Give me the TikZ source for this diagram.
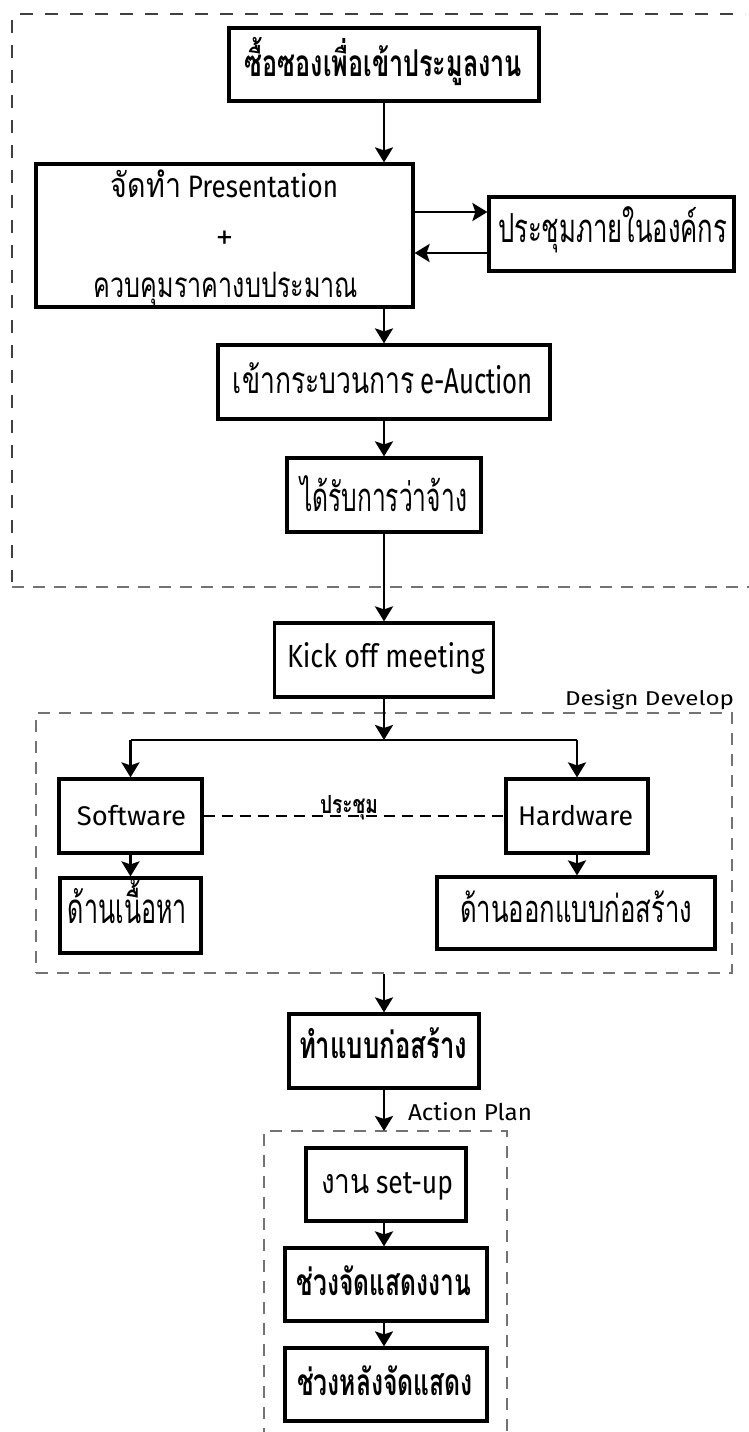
\documentclass[tikz,border=0pt]{standalone}
\usepackage{fontspec}
\setmainfont{Fira Sans}
\newfontfamily\thf[Script=Thai]{Loma}
\usetikzlibrary{arrows.meta}
\newcommand{\fw}[2]{\resizebox{#1}{\height}{#2}}
\newcommand{\fs}[1]{\fontsize{#1}{#1}\selectfont}
\begin{document}
\begin{tikzpicture}[x=1pt,y=-1pt,
  box/.style={draw=black, line width=3.2pt, inner sep=0pt, rectangle},
  txt/.style={anchor=base, inner sep=0pt, font=\fs{30}},
  arr/.style={draw=black, line width=2.8pt, -{Stealth[length=15pt,width=18pt,inset=3pt]}},
  conn/.style={draw=black, line width=2.8pt},
  regdash/.style={draw=black!75, line width=1.4pt, dash pattern=on 13pt off 12pt},
  grpdash/.style={draw=black!55, line width=1.4pt, dash pattern=on 12pt off 9pt},
  linkdash/.style={draw=black, line width=1.8pt, dash pattern=on 11pt off 7pt}]
\useasboundingbox[fill=white] (0,0) rectangle (749,1432);

% region separators
\draw[regdash] (20,14) -- (745,14);
\draw[regdash] (12,20) -- (12,582);
\draw[grpdash] (12,587) -- (749,587);

% boxes
\node[box, minimum width=310pt, minimum height=73pt] (b1) at (384,64.5) {};
\node[box, minimum width=377pt, minimum height=143pt] (b2) at (224.5,235.5) {};
\node[box, minimum width=245pt, minimum height=74pt] (b3) at (611.5,234) {};
\node[box, minimum width=332pt, minimum height=74pt] (b4) at (384,382) {};
\node[box, minimum width=194pt, minimum height=74pt] (b5) at (384,495) {};
\node[box, minimum width=219pt, minimum height=74pt] (b6) at (384,660) {};
\node[grpdash, rectangle, inner sep=0pt, minimum width=696pt, minimum height=260pt] (dd) at (384,843) {};
\node[box, minimum width=143pt, minimum height=74pt] (sw) at (130.5,816) {};
\node[box, minimum width=142pt, minimum height=74pt] (hw) at (577,816) {};
\node[box, minimum width=141pt, minimum height=75pt] (cont) at (130.5,915.5) {};
\node[box, minimum width=278pt, minimum height=72pt] (cons) at (576,913) {};
\node[box, minimum width=190pt, minimum height=74pt] (b7) at (384,1051) {};
\node[box, minimum width=160pt, minimum height=73pt] (b8) at (386,1184.5) {};
\node[box, minimum width=202pt, minimum height=73pt] (b9) at (386,1284.5) {};
\node[box, minimum width=202pt, minimum height=73pt] (b10) at (386,1384.5) {};

% action plan group (open at the bottom)
\coordinate (apt) at (384,1131);
\draw[grpdash] (264,1440) -- (264,1131) -- (507,1131) -- (507,1440);

% texts
\node[txt] (t1) at (383.5,76) {\fw{277pt}{\thf\bfseries\fs{37}ซื้อซองเพื่อเข้าประมูลงาน}};
\node[txt] (t2a) at (224.5,197) {\fw{227pt}{{\thf\fs{34}จัดทำ} {\fs{31}Presentation}}};
\node[txt, anchor=center, font=\fs{28}\thf] (t2b) at (224.5,239) {+};
\node[txt] (t2c) at (226,297) {\fw{264pt}{\thf\fs{35}ควบคุมราคางบประมาณ}};
\node[txt] (t3) at (612.5,242) {\fw{229pt}{\thf\fs{40}ประชุมภายในองค์กร}};
\node[txt] (t4) at (383,393) {\fw{300pt}{{\thf\fs{37}เข้ากระบวนการ} {\fs{36}e-Auction}}};
\node[txt] (t5) at (383.5,511) {\fw{167pt}{\thf\fs{40}ได้รับการว่าจ้าง}};
\node[txt] (t6) at (386,667) {\fw{198pt}{\fs{32}Kick off meeting}};
\node[txt] (tdd) at (649.5,705) {\fw{169pt}{\fs{20}Design Develop}};
\node[txt] (tsw) at (131.5,825) {\fw{109pt}{\fs{27}Software}};
\node[txt] (thw) at (575.5,825) {\fw{115pt}{\fs{27}Hardware}};
\node[txt] (tcont) at (127.5,923) {\fw{119pt}{\thf\fs{42}ด้านเนื้อหา}};
\node[txt] (tcons) at (576,922) {\fw{232pt}{\thf\fs{38}ด้านออกแบบก่อสร้าง}};
\node[txt] (t7) at (383,1058) {\fw{168pt}{\thf\bfseries\fs{37}ทำแบบก่อสร้าง}};
\node[txt] (tap) at (470,1120) {\fw{124pt}{\fs{23}Action Plan}};
\node[txt] (t8) at (387,1193) {\fw{132pt}{{\thf\fs{34}งาน} {\fs{32}set-up}}};
\node[txt] (t9) at (384,1295) {\fw{174pt}{\thf\bfseries\fs{37}ช่วงจัดแสดงงาน}};
\node[txt] (t10) at (385,1395) {\fw{176pt}{\thf\bfseries\fs{37}ช่วงหลังจัดแสดง}};

% connectors
\draw[arr] (b1.south) -- (b2.north -| b1.south);
\draw[arr] ([yshift=23.5pt]b2.east) -- ([yshift=23.5pt]b2.east -| b3.west);
\draw[arr] ([yshift=-19pt]b3.west) -- ([yshift=-19pt]b3.west -| b2.east);
\draw[arr] (b2.south -| b4.north) -- (b4.north);
\draw[arr] (b4.south) -- (b5.north);
\draw[arr] (b5.south) -- (b6.north);
\coordinate (br) at (384,740);
\draw[arr] (b6.south) -- (br);
\draw[conn] (sw.north |- br) -- (hw.north |- br);
\draw[arr] (sw.north |- br) -- (sw.north);
\draw[arr] (hw.north |- br) -- (hw.north);
\draw[linkdash] (sw.east) -- (hw.west);
\node[txt] (tmeet) at (349,813) {\fw{58pt}{\thf\bfseries\fs{25}ประชุม}};
\draw[arr] (sw.south) -- (cont.north -| sw.south);
\draw[arr] (hw.south) -- (cons.north -| hw.south);
\draw[arr] (dd.south) -- (b7.north);
\draw[arr] (b7.south) -- (apt);
\draw[arr] (b8.south -| apt) -- (b9.north -| apt);
\draw[arr] (b9.south -| apt) -- (b10.north -| apt);
\end{tikzpicture}
\end{document}
